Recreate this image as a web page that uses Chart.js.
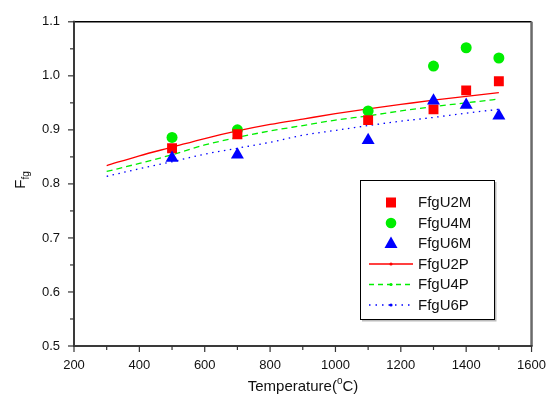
<!DOCTYPE html>
<html><head><meta charset="utf-8">
<script src="https://cdn.jsdelivr.net/npm/chart.js@4.4.1/dist/chart.umd.min.js"></script>
<style>html,body{margin:0;padding:0;background:#fff}#wrap{width:558px;height:409px}</style>
</head><body><div id="wrap"><canvas id="c" width="558" height="409"></canvas></div>
<script>
// measured data
const tempsM = [500, 700, 1100, 1300, 1400, 1500];
const u2m = [0.866, 0.892, 0.918, 0.938, 0.973, 0.990];
const u4m = [0.886, 0.900, 0.935, 1.018, 1.052, 1.033];
const u6m = [0.848, 0.854, 0.881, 0.954, 0.946, 0.926];
// predicted curves
const tempsP = [300, 400, 500, 600, 700, 800, 900, 1000, 1100, 1200, 1300, 1400, 1500];
const u2p = [0.834, 0.852, 0.868, 0.884, 0.898, 0.910, 0.920, 0.930, 0.939, 0.947, 0.955, 0.962, 0.969];
const u4p = [0.823, 0.838, 0.854, 0.872, 0.886, 0.898, 0.908, 0.918, 0.926, 0.935, 0.943, 0.950, 0.957];
const u6p = [0.814, 0.828, 0.841, 0.855, 0.866, 0.877, 0.890, 0.899, 0.908, 0.916, 0.923, 0.931, 0.938];
const xTicks = [200, 400, 600, 800, 1000, 1200, 1400, 1600];
const yTicks = [0.5, 0.6, 0.7, 0.8, 0.9, 1.0, 1.1];
const legendLabels = ['FfgU2M', 'FfgU4M', 'FfgU6M', 'FfgU2P', 'FfgU4P', 'FfgU6P'];

const FONT = '"Liberation Sans", Arial, sans-serif';
const pts = (xs, ys) => xs.map((x, i) => ({x: x, y: ys[i]}));

const frame = {
  id: 'frame',
  afterDatasetsDraw(chart) {
    const {ctx, chartArea: a, scales: {x, y}} = chart;
    ctx.save();
    ctx.lineCap = 'butt';
    ctx.strokeStyle = '#000'; ctx.lineWidth = 1.5;
    ctx.beginPath(); ctx.moveTo(a.left, a.top); ctx.lineTo(a.right, a.top); ctx.stroke();
    ctx.strokeStyle = '#6a6a6a'; ctx.lineWidth = 2.5;
    ctx.beginPath(); ctx.moveTo(a.right, a.top); ctx.lineTo(a.right, a.bottom); ctx.stroke();
    ctx.strokeStyle = '#3a3a3a'; ctx.lineWidth = 2;
    ctx.beginPath(); ctx.moveTo(a.left, a.top - 1); ctx.lineTo(a.left, a.bottom); ctx.lineTo(a.right + 1, a.bottom); ctx.stroke();
    ctx.lineWidth = 1.2; ctx.strokeStyle = '#333';
    for (let v = 200; v <= 1600; v += 100) {
      const px = x.getPixelForValue(v);
      const len = (v % 200 === 0) ? 6 : 4;
      ctx.beginPath(); ctx.moveTo(px, a.bottom); ctx.lineTo(px, a.bottom + len); ctx.stroke();
    }
    for (let k = 0; k <= 12; k++) {
      const v = 0.5 + k * 0.05;
      const py = y.getPixelForValue(v);
      const len = (k % 2 === 0) ? 6 : 4;
      ctx.beginPath(); ctx.moveTo(a.left, py); ctx.lineTo(a.left - len, py); ctx.stroke();
    }
    ctx.fillStyle = '#111';
    ctx.textBaseline = 'alphabetic';
    const t1 = 'Temperature(', t2 = 'C)';
    ctx.font = '15px ' + FONT;
    const w1 = ctx.measureText(t1).width, w3 = ctx.measureText(t2).width;
    ctx.font = '10px ' + FONT;
    const w2 = ctx.measureText('o').width;
    let sx = 303 - (w1 + w2 + w3) / 2;
    const by = 391;
    ctx.textAlign = 'left';
    ctx.font = '15px ' + FONT; ctx.fillText(t1, sx, by);
    ctx.font = '10px ' + FONT; ctx.fillText('o', sx + w1, by - 7);
    ctx.font = '15px ' + FONT; ctx.fillText(t2, sx + w1 + w2, by);
    ctx.save();
    ctx.translate(25, 180); ctx.rotate(-Math.PI / 2);
    ctx.font = '15px ' + FONT;
    const wf = ctx.measureText('F').width;
    ctx.font = '10px ' + FONT;
    const wfg = ctx.measureText('fg').width;
    const s0 = -(wf + wfg) / 2;
    ctx.font = '15px ' + FONT; ctx.fillText('F', s0, 0);
    ctx.font = '10px ' + FONT; ctx.fillText('fg', s0 + wf, 4);
    ctx.restore();
    // legend
    const bx = 360, bYt = 180, bw = 134, bh = 139;
    ctx.fillStyle = '#fff'; ctx.fillRect(bx, bYt, bw, bh);
    ctx.strokeStyle = '#bbb'; ctx.lineWidth = 2;
    ctx.beginPath(); ctx.moveTo(bx + bw + 1.5, bYt + 2); ctx.lineTo(bx + bw + 1.5, bYt + bh + 1.5); ctx.lineTo(bx + 2, bYt + bh + 1.5); ctx.stroke();
    ctx.strokeStyle = '#000'; ctx.lineWidth = 1;
    ctx.strokeRect(bx + 0.5, bYt + 0.5, bw, bh);
    const rows = [202.5, 223, 243, 264, 284.5, 305];
    const ds = chart.data.datasets;
    ctx.font = '15px ' + FONT; ctx.textAlign = 'left'; ctx.textBaseline = 'middle';
    for (let i = 0; i < 6; i++) {
      const ry = rows[i];
      const d = ds[i];
      if (i < 3) {
        ctx.fillStyle = d.backgroundColor;
        const mx = 391;
        if (i === 0) { ctx.fillRect(mx - 5, ry - 5, 10, 10); }
        else if (i === 1) { ctx.beginPath(); ctx.arc(mx, ry, 5.3, 0, Math.PI * 2); ctx.fill(); }
        else { ctx.beginPath(); ctx.moveTo(mx, ry - 6.5); ctx.lineTo(mx + 6.5, ry + 5); ctx.lineTo(mx - 6.5, ry + 5); ctx.closePath(); ctx.fill(); }
      } else {
        ctx.strokeStyle = d.borderColor; ctx.lineWidth = d.borderWidth;
        ctx.setLineDash(d.legendDash);
        ctx.beginPath(); ctx.moveTo(369, ry); ctx.lineTo(413, ry); ctx.stroke();
        ctx.setLineDash([]);
        ctx.fillStyle = d.borderColor;
        ctx.beginPath(); ctx.arc(391, ry, 1.6, 0, Math.PI * 2); ctx.fill();
      }
      ctx.fillStyle = '#111';
      ctx.fillText(legendLabels[i], 418, ry + 0.5);
    }
    ctx.restore();
  }
};

new Chart(document.getElementById('c'), {
  type: 'scatter',
  data: {
    datasets: [
      {label: legendLabels[0], data: pts(tempsM, u2m), backgroundColor: '#ff0000', borderColor: '#ff0000', pointStyle: 'rect', pointRadius: 7, borderWidth: 0, order: 1},
      {label: legendLabels[1], data: pts(tempsM, u4m), backgroundColor: '#00ee00', borderColor: '#00ee00', pointStyle: 'circle', pointRadius: 5.5, borderWidth: 0, order: 2},
      {label: legendLabels[2], data: pts(tempsM, u6m), backgroundColor: '#0000ff', borderColor: '#0000ff', pointStyle: 'triangle', pointRadius: 7.5, borderWidth: 0, order: 0},
      {label: legendLabels[3], data: pts(tempsP, u2p), type: 'line', showLine: true, borderColor: '#ff0000', backgroundColor: '#ff0000', borderWidth: 1.3, pointRadius: 0, cubicInterpolationMode: 'monotone', fill: false, legendDash: [], order: 3},
      {label: legendLabels[4], data: pts(tempsP, u4p), type: 'line', showLine: true, borderColor: '#00ee00', backgroundColor: '#00ee00', borderWidth: 1.3, borderDash: [6, 4], pointRadius: 0, cubicInterpolationMode: 'monotone', fill: false, legendDash: [5, 4], order: 4},
      {label: legendLabels[5], data: pts(tempsP, u6p), type: 'line', showLine: true, borderColor: '#0000ff', backgroundColor: '#0000ff', borderWidth: 1.3, borderDash: [1.5, 4.5], pointRadius: 0, cubicInterpolationMode: 'monotone', fill: false, legendDash: [1.5, 5], order: 5}
    ]
  },
  options: {
    responsive: false,
    animation: false,
    devicePixelRatio: 1,
    layout: {padding: {top: 10, right: 25, left: 0, bottom: 0}},
    plugins: {legend: {display: false}, tooltip: {enabled: false}},
    scales: {
      x: {
        type: 'linear', min: 200, max: 1600,
        afterBuildTicks: (s) => { s.ticks = xTicks.map(v => ({value: v})); },
        afterFit: (s) => { s.height = 63; },
        grid: {display: false, drawTicks: false},
        border: {display: false},
        ticks: {padding: 12, color: '#111', font: {family: FONT, size: 13}, maxRotation: 0, callback: (v) => String(v)}
      },
      y: {
        type: 'linear', min: 0.5, max: 1.1,
        afterBuildTicks: (s) => { s.ticks = yTicks.map(v => ({value: v})); },
        afterFit: (s) => { s.width = 74; },
        grid: {display: false, drawTicks: false},
        border: {display: false},
        ticks: {padding: 14, color: '#111', font: {family: FONT, size: 13}, callback: (v) => Number(v).toFixed(1)}
      }
    }
  },
  plugins: [frame]
});
</script></body></html>
